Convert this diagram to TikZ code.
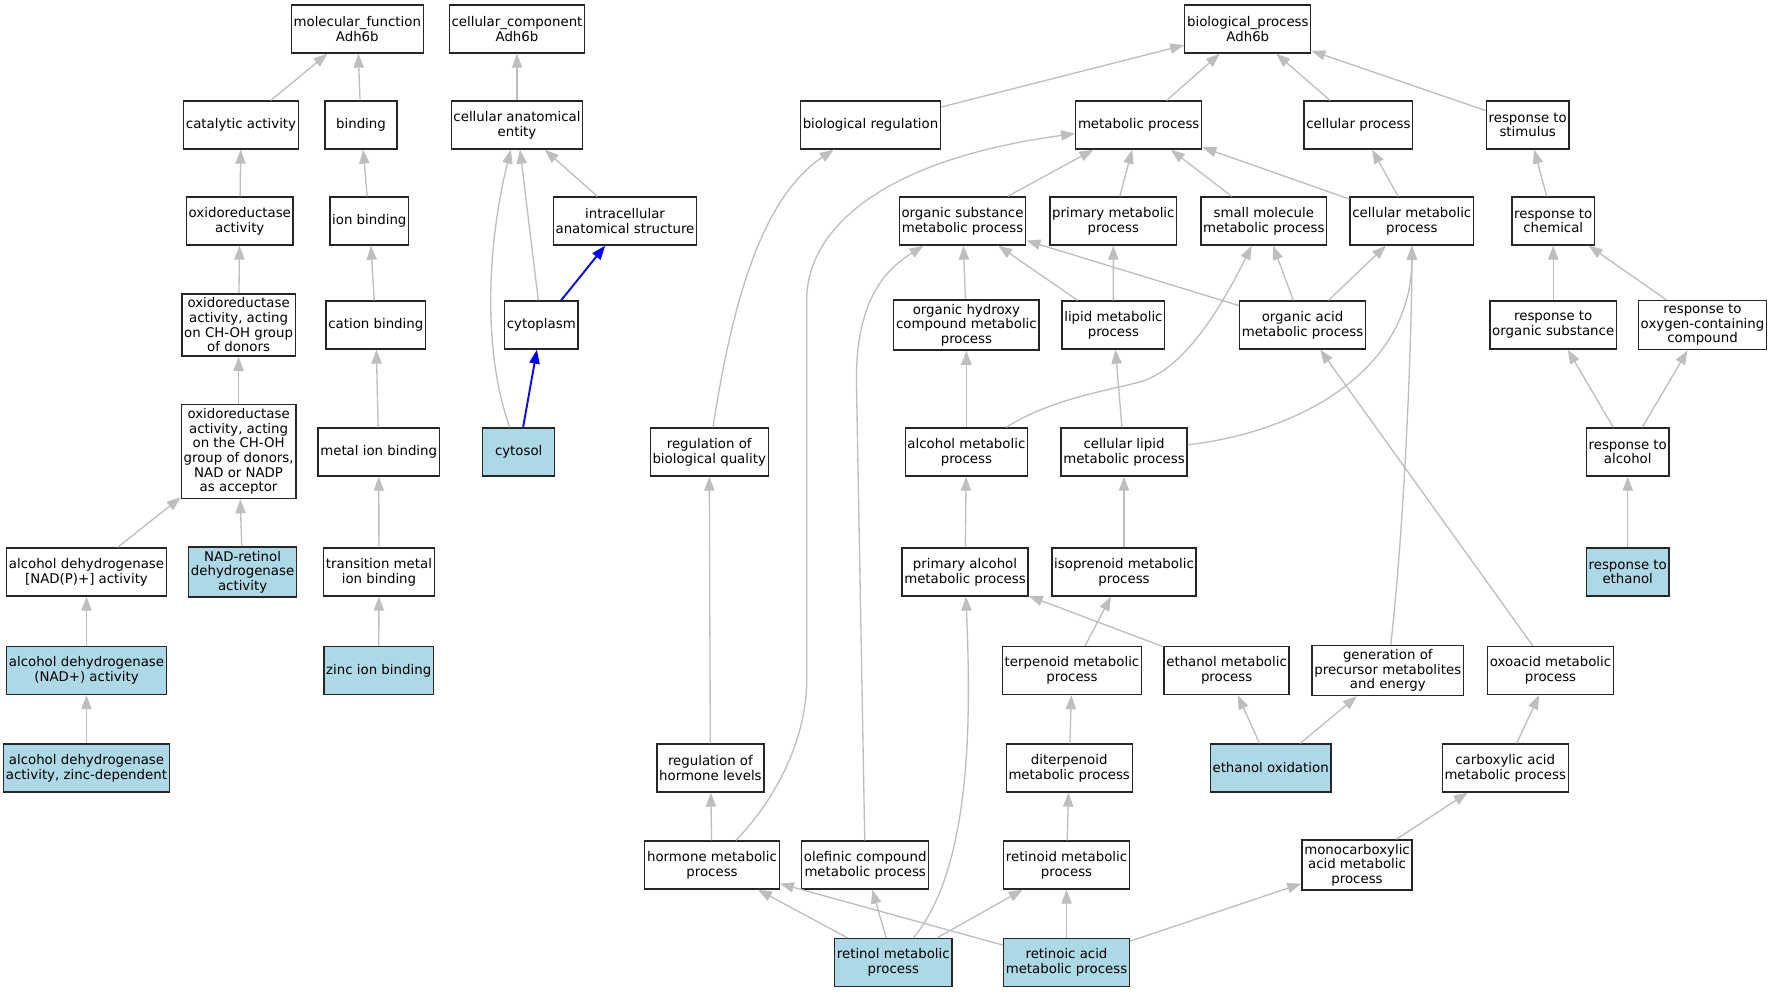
\documentclass[tikz,border=0pt]{standalone}
\usepackage{fontspec}
\setmainfont{DejaVu Sans}
\usetikzlibrary{arrows.meta}
\definecolor{edgegray}{HTML}{BEBEBE}
\definecolor{hitblue}{HTML}{ADD8E6}
\begin{document}
\begin{tikzpicture}[x=0.75pt,y=-0.75pt,
 term/.style={draw=black!85,line width=1pt,fill=white,align=center,font=\fontsize{10}{11}\selectfont,minimum width=54pt,minimum height=36pt,inner xsep=1.7pt,inner ysep=3pt},
 hit/.style={term,fill=hitblue},
 isa/.style={->,>={Triangle[length=10.5pt,width=7.7pt]},draw=edgegray,line width=1pt},
 partof/.style={isa,draw=blue,line width=1.4pt}]
\useasboundingbox (0,0) rectangle (1772,992);
% 分子機能
\node[term] (mf) at (357.3,29) {molecular\_function\\Adh6b};
\node[term] (catact) at (241,125) {catalytic activity};
\node[term] (bind) at (361,125) {binding};
\node[term] (oxact) at (239.8,221) {oxidoreductase\\activity};
\node[term] (ionbind) at (369.3,221) {ion binding};
\node[term] (oxchoh) at (238.6,325) {oxidoreductase\\activity, acting\\on CH-OH group\\of donors};
\node[term] (catbind) at (375.8,325) {cation binding};
\node[term] (oxnad) at (238.6,451.5) {oxidoreductase\\activity, acting\\on the CH-OH\\group of donors,\\NAD or NADP\\as acceptor};
\node[term] (metalbind) at (378.7,452) {metal ion binding};
\node[term] (adhnadp) at (86.5,572) {alcohol dehydrogenase\\{[NAD(P)+] activity}};
\node[hit] (nadret) at (242.6,572) {NAD-retinol\\dehydrogenase\\activity};
\node[term] (transmet) at (379,572) {transition metal\\ion binding};
\node[hit] (adhnad) at (86.5,670.5) {alcohol dehydrogenase\\(NAD+) activity};
\node[hit] (zincbind) at (378.7,670.5) {zinc ion binding};
\node[hit] (adhzinc) at (86.5,768) {alcohol dehydrogenase\\activity, zinc-dependent};
% 細胞構成要素
\node[term] (cc) at (517,29) {cellular\_component\\Adh6b};
\node[term] (cae) at (517,125) {cellular anatomical\\entity};
\node[term] (intra) at (625,221) {intracellular\\anatomical structure};
\node[term] (cytopl) at (541.3,325) {cytoplasm};
\node[hit] (cytosol) at (518.7,452) {cytosol};
% 生物学的プロセス
\node[term] (bp) at (1247.8,29) {biological\_process\\Adh6b};
\node[term] (bioreg) at (870.5,125) {biological regulation};
\node[term] (metab) at (1138.7,125) {metabolic process};
\node[term] (cellproc) at (1358.4,125) {cellular process};
\node[term] (respstim) at (1527.7,125) {response to\\stimulus};
\node[term] (orgsub) at (962.5,221) {organic substance\\metabolic process};
\node[term] (primet) at (1113.3,221) {primary metabolic\\process};
\node[term] (smallmol) at (1263.8,221) {small molecule\\metabolic process};
\node[term] (cellmet) at (1411.8,221) {cellular metabolic\\process};
\node[term] (respchem) at (1553.2,221) {response to\\chemical};
\node[term] (hydroxy) at (966.4,325) {organic hydroxy\\compound metabolic\\process};
\node[term] (lipid) at (1113.4,325) {lipid metabolic\\process};
\node[term] (orgacid) at (1302.5,325) {organic acid\\metabolic process};
\node[term] (resporg) at (1553.2,325) {response to\\organic substance};
\node[term] (respoxy) at (1702.5,325) {response to\\oxygen-containing\\compound};
\node[term] (regqual) at (709.2,452) {regulation of\\biological quality};
\node[term] (alcmet) at (966.4,452) {alcohol metabolic\\process};
\node[term] (cellipid) at (1124,452) {cellular lipid\\metabolic process};
\node[term] (respalc) at (1627.7,452) {response to\\alcohol};
\node[term] (primalc) at (965,572) {primary alcohol\\metabolic process};
\node[term] (isopren) at (1124,572) {isoprenoid metabolic\\process};
\node[hit] (respeth) at (1627.7,572) {response to\\ethanol};
\node[term] (terpen) at (1072,670.5) {terpenoid metabolic\\process};
\node[term] (ethmet) at (1226.6,670.5) {ethanol metabolic\\process};
\node[term] (genprec) at (1387.8,670.5) {generation of\\precursor metabolites\\and energy};
\node[term] (oxoacid) at (1550.5,670.5) {oxoacid metabolic\\process};
\node[term] (reghorm) at (710.4,768) {regulation of\\hormone levels};
\node[term] (diterp) at (1069.2,768) {diterpenoid\\metabolic process};
\node[hit] (ethox) at (1270.6,768) {ethanol oxidation};
\node[term] (carbox) at (1505.2,768) {carboxylic acid\\metabolic process};
\node[term] (hormmet) at (712,865) {hormone metabolic\\process};
\node[term] (olefin) at (865.2,865) {olefinic compound\\metabolic process};
\node[term] (retinoid) at (1066.5,865) {retinoid metabolic\\process};
\node[term] (monocarb) at (1357,865) {monocarboxylic\\acid metabolic\\process};
\node[hit] (retinol) at (893.3,962.5) {retinol metabolic\\process};
\node[hit] (retacid) at (1066.5,962.5) {retinoic acid\\metabolic process};
% 分子機能の矢印
\draw[isa] (catact)--(mf);
\draw[isa] (bind)--(mf);
\draw[isa] (oxact)--(catact);
\draw[isa] (ionbind)--(bind);
\draw[isa] (oxchoh)--(oxact);
\draw[isa] (catbind)--(ionbind);
\draw[isa] (oxnad)--(oxchoh);
\draw[isa] (metalbind)--(catbind);
\draw[isa] (adhnadp)--(oxnad);
\draw[isa] (nadret)--(oxnad);
\draw[isa] (transmet)--(metalbind);
\draw[isa] (adhnad)--(adhnadp);
\draw[isa] (zincbind)--(transmet);
\draw[isa] (adhzinc)--(adhnad);
% 細胞構成要素の矢印
\draw[isa] (cae)--(cc);
\draw[isa] (intra)--(cae);
\draw[isa] (cytopl)--(cae);
\draw[isa] (cytosol) .. controls (482.5,352) and (487,245) .. (cae); %cytosol→entity
\draw[partof] (cytopl)--(intra);
\draw[partof] (cytosol)--(cytopl);
% 生物学的プロセスの矢印
\draw[isa] (bioreg)--(bp);
\draw[isa] (metab)--(bp);
\draw[isa] (cellproc)--(bp);
\draw[isa] (respstim)--(bp);
\draw[isa] (regqual) .. controls (732.3,302) and (761.6,197.9) .. (bioreg);
\draw[isa] (hormmet) .. controls (775,800) and (806.7,740) .. (806.7,680) -- (806.7,300) .. controls (806.7,230) and (880,160) .. (metab); %長い曲線
\draw[isa] (orgsub)--(metab);
\draw[isa] (primet)--(metab);
\draw[isa] (smallmol)--(metab);
\draw[isa] (cellmet)--(metab);
\draw[isa] (cellmet)--(cellproc);
\draw[isa] (respchem)--(respstim);
\draw[isa] (hydroxy)--(orgsub);
\draw[isa] (lipid)--(orgsub);
\draw[isa] (lipid)--(primet);
\draw[isa] (orgacid)--(orgsub);
\draw[isa] (orgacid)--(smallmol);
\draw[isa] (orgacid)--(cellmet);
\draw[isa] (resporg)--(respchem);
\draw[isa] (respoxy)--(respchem);
\draw[isa] (alcmet)--(hydroxy);
\draw[isa] (alcmet) .. controls (1050,400) and (1100,392) .. (1140,382) .. controls (1180,370) and (1215,320) .. (smallmol);
\draw[isa] (cellipid)--(lipid);
\draw[isa] (cellipid) .. controls (1300,432) and (1412,370) .. (cellmet);
\draw[isa] (primalc)--(alcmet);
\draw[isa] (isopren)--(cellipid);
\draw[isa] (genprec) .. controls (1405,520) and (1412,330) .. (cellmet);
\draw[isa] (oxoacid)--(orgacid);
\draw[isa] (respalc)--(resporg);
\draw[isa] (respalc)--(respoxy);
\draw[isa] (respeth)--(respalc);
\draw[isa] (reghorm)--(regqual);
\draw[isa] (terpen)--(isopren);
\draw[isa] (ethmet)--(primalc);
\draw[isa] (ethox)--(ethmet);
\draw[isa] (ethox)--(genprec);
\draw[isa] (carbox)--(oxoacid);
\draw[isa] (diterp)--(terpen);
\draw[isa] (hormmet)--(reghorm);
\draw[isa] (retinoid)--(diterp);
\draw[isa] (monocarb)--(carbox);
\draw[isa] (olefin)--(856.4,380) .. controls (856.4,300) and (885,270) .. (orgsub);
\draw[isa] (retinol)--(hormmet);
\draw[isa] (retinol)--(olefin);
\draw[isa] (retinol) .. controls (975.3,862.5) and (970,700) .. (primalc);
\draw[isa] (retinol)--(retinoid);
\draw[isa] (retacid)--(hormmet);
\draw[isa] (retacid)--(retinoid);
\draw[isa] (retacid)--(monocarb);
\end{tikzpicture}
\end{document}
